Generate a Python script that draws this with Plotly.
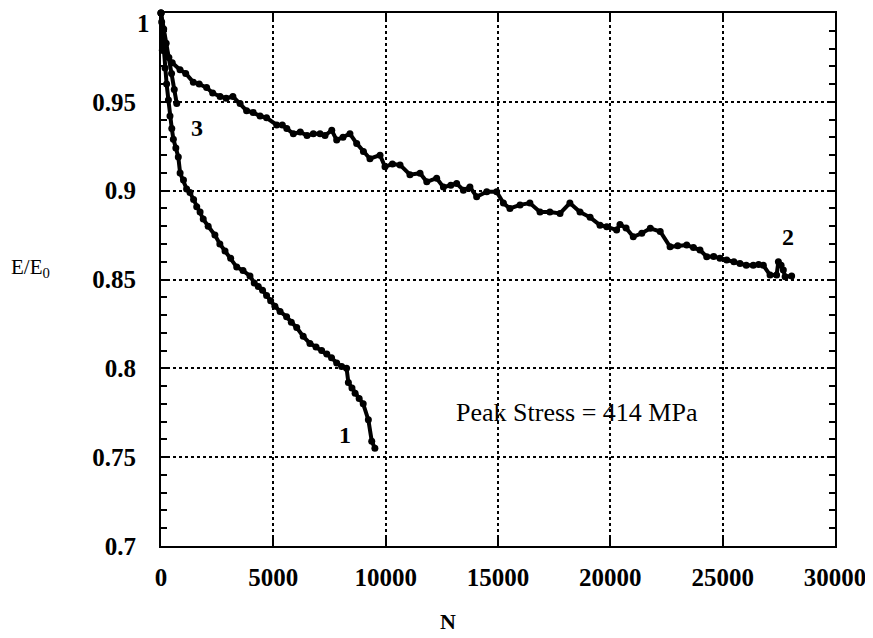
import plotly.graph_objects as go

# ---- data ----
n_curve1 = [0, 30, 100, 180, 250, 330, 400, 480, 550, 660, 770, 850, 1000, 1140, 1290, 1450, 1590, 1740, 1880,
            2100, 2400, 2620, 2850, 3100, 3370, 3650, 3960, 4150, 4330, 4520, 4700, 4880, 5070, 5300, 5590,
            5800, 6040, 6330, 6630, 6900, 7150, 7380, 7590, 7820, 8040, 8260, 8340, 8500, 8640, 8820, 9000,
            9230, 9380, 9520]
e_curve1 = [1.0, 0.995, 0.979, 0.969, 0.960, 0.951, 0.942, 0.935, 0.929, 0.924, 0.919, 0.910, 0.906, 0.901,
            0.899, 0.895, 0.891, 0.888, 0.884, 0.880, 0.875, 0.870, 0.866, 0.862, 0.857, 0.855, 0.852, 0.848,
            0.846, 0.844, 0.841, 0.838, 0.835, 0.832, 0.829, 0.826, 0.823, 0.818, 0.814, 0.812, 0.810, 0.808,
            0.806, 0.803, 0.801, 0.800, 0.792, 0.789, 0.786, 0.783, 0.780, 0.771, 0.759, 0.755]

n_curve2 = [0, 60, 250, 500, 846, 1100, 1440, 1700, 2030, 2300, 2630, 2900, 3200, 3520, 3810, 4100, 4410,
            4700, 5150, 5400, 5600, 5890, 6200, 6500, 6780, 7080, 7300, 7600, 7820, 8100, 8410, 8710, 9010,
            9300, 9750, 9970, 10300, 10640, 11080, 11530, 11830, 12270, 12570, 12900, 13160, 13460, 13750,
            14050, 14500, 14940, 15240, 15530, 15980, 16420, 16870, 17310, 17760, 18200, 18650, 19100, 19540,
            19840, 20280, 20430, 20700, 21020, 21400, 21780, 22220, 22660, 23000, 23400, 23700, 23990, 24290,
            24600, 24880, 25180, 25500, 25770, 26050, 26360, 26600, 26810, 27110, 27400, 27480, 27600, 27700,
            27780, 28070]
e_curve2 = [1.0, 0.979, 0.976, 0.972, 0.968, 0.966, 0.961, 0.960, 0.958, 0.955, 0.953, 0.952, 0.953, 0.949,
            0.945, 0.944, 0.942, 0.941, 0.937, 0.937, 0.935, 0.932, 0.933, 0.931, 0.932, 0.932, 0.931, 0.934,
            0.9285, 0.930, 0.932, 0.9266, 0.922, 0.918, 0.920, 0.9135, 0.915, 0.9145, 0.909, 0.9098, 0.905,
            0.907, 0.902, 0.903, 0.904, 0.9003, 0.902, 0.8966, 0.8994, 0.8994, 0.893, 0.890, 0.892, 0.893,
            0.888, 0.888, 0.8872, 0.893, 0.888, 0.885, 0.8806, 0.8797, 0.8778, 0.881, 0.879, 0.874, 0.876,
            0.8788, 0.877, 0.8684, 0.869, 0.8694, 0.868, 0.8666, 0.8628, 0.863, 0.862, 0.861, 0.860, 0.859,
            0.858, 0.858, 0.8585, 0.858, 0.8525, 0.8525, 0.860, 0.858, 0.8553, 0.8515, 0.852]

n_curve3 = [0, 120, 230, 350, 470, 590, 700]
e_curve3 = [1.0, 0.991, 0.983, 0.975, 0.966, 0.957, 0.949]

curve_labels = ["1", "2", "3"]
label_n = [8190, 27910, 1600]
label_e = [0.7625, 0.874, 0.935]

note_text = "Peak Stress = 414 MPa"
note_n, note_e = 18520, 0.7754

x_ticks = [0, 5000, 10000, 15000, 20000, 25000, 30000]
y_ticks = [0.7, 0.75, 0.8, 0.85, 0.9, 0.95, 1.0]
y_tick_text = ["0.7", "0.75", "0.8", "0.85", "0.9", "0.95", ""]   # top label drawn below as annotation
y_top_label = "1"

SERIF = "Liberation Serif, Times New Roman, serif"

# page body adds an 8px offset; plot area targeted at x 161-835, y 13-546 in the window
W, H = 865, 630
ML, MR, MT, MB = 153, 38, 5, 92
PW, PH = W - ML - MR, H - MT - MB

fig = go.Figure()
for nx, ey in [(n_curve1, e_curve1), (n_curve2, e_curve2), (n_curve3, e_curve3)]:
    fig.add_trace(go.Scatter(
        x=nx, y=ey, mode="lines+markers",
        line=dict(color="black", width=4),
        marker=dict(color="black", size=7),
        cliponaxis=False, showlegend=False, hoverinfo="skip"))

for t, nx, ey in zip(curve_labels, label_n, label_e):
    fig.add_annotation(x=nx, y=ey, text=t, showarrow=False,
                       font=dict(family=SERIF, size=24, color="black", weight="bold"))

fig.add_annotation(x=note_n, y=note_e, text=note_text, showarrow=False,
                   font=dict(family=SERIF, size=26, color="black"))

# window-pixel positions converted to paper fractions
def px_to_paper(px, py):
    return (px - 8 - ML) / PW, (H - MB - (py - 8)) / PH

nx_, ny_ = px_to_paper(448, 621)
fig.add_annotation(xref="paper", yref="paper", x=nx_, y=ny_, text="N", showarrow=False,
                   xanchor="center", yanchor="middle",
                   font=dict(family=SERIF, size=22, color="black", weight="bold"))
ex_, ey_ = px_to_paper(30, 268)
fig.add_annotation(xref="paper", yref="paper", x=ex_, y=ey_, text="E/E<sub>0</sub>", showarrow=False,
                   xanchor="center", yanchor="middle",
                   font=dict(family=SERIF, size=21, color="black"))
tx_, ty_ = px_to_paper(152, 8)
fig.add_annotation(xref="paper", yref="paper", x=tx_, y=ty_, text=y_top_label, showarrow=False,
                   xanchor="right", yanchor="top",
                   font=dict(family=SERIF, size=25, color="black", weight="bold"))

axis_common = dict(
    showline=True, linecolor="black", linewidth=2, mirror="allticks",
    ticks="inside", tickcolor="black", tickwidth=1.5, ticklen=8,
    showgrid=True, gridcolor="black", gridwidth=1.5, griddash="dot",
    zeroline=False, automargin=False, ticklabeloverflow="allow",
    tickfont=dict(family=SERIF, size=25, color="black", weight="bold"),
)

fig.update_xaxes(range=[0, 30000], tickvals=x_ticks, ticktext=[str(v) for v in x_ticks],
                 ticklabelstandoff=8, **axis_common)
fig.update_yaxes(range=[0.7, 1.0], tickvals=y_ticks, ticktext=y_tick_text,
                 ticklabelstandoff=18,
                 minor=dict(dtick=0.01, tick0=0.7, ticks="inside", ticklen=6,
                            tickcolor="black", tickwidth=1.5, showgrid=False),
                 **axis_common)

fig.update_layout(
    width=W, height=H,
    margin=dict(l=ML, r=MR, t=MT, b=MB, pad=0),
    plot_bgcolor="white", paper_bgcolor="white",
)

fig.write_html("out.html")
